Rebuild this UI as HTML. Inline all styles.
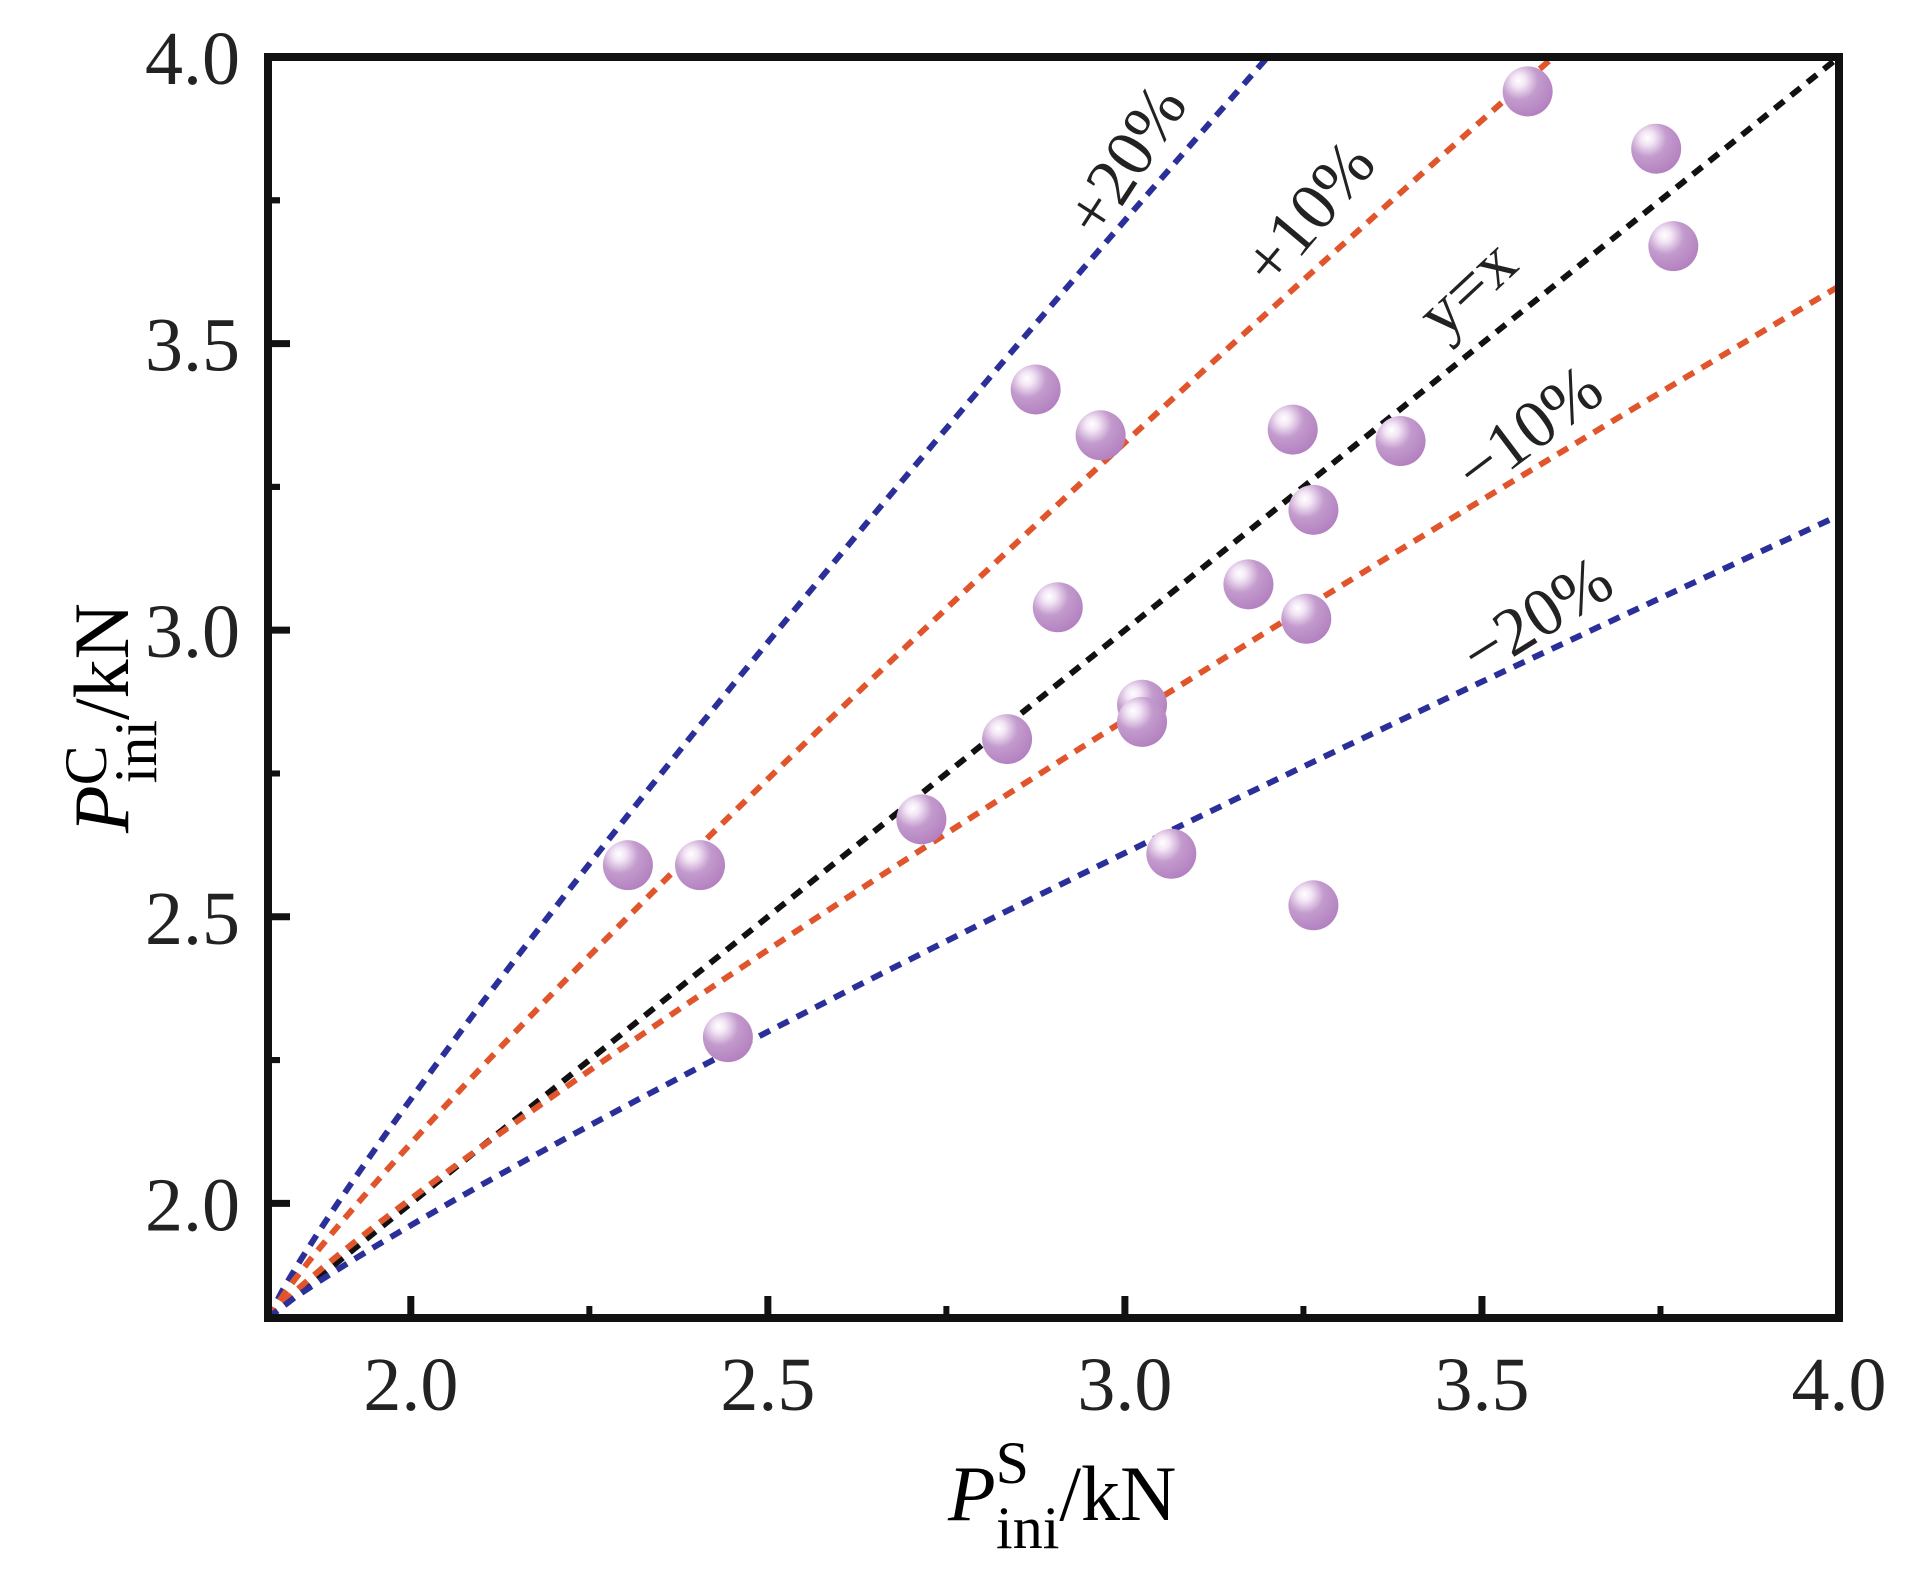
<!DOCTYPE html>
<html><head><meta charset="utf-8"><style>
html,body{margin:0;padding:0;background:#fff;}
svg{display:block;font-family:"Liberation Serif",serif;}
</style></head><body>
<svg id="chart" width="1912" height="1576" viewBox="0 0 1912 1576" xmlns="http://www.w3.org/2000/svg">
<defs>
<radialGradient id="ball" cx="0.35" cy="0.3" r="0.75" fx="0.32" fy="0.28">
<stop offset="0" stop-color="#ffffff"/>
<stop offset="0.18" stop-color="#f3e6f5"/>
<stop offset="0.5" stop-color="#c39bcd"/>
<stop offset="1" stop-color="#b27fbf"/>
</radialGradient>
<clipPath id="plotclip"><rect x="268" y="57" width="1571" height="1261"/></clipPath>
</defs>
<g id="lines" clip-path="url(#plotclip)"></g>
<g id="labels"></g>
<g id="points"></g>
<g id="axes"></g>
<text x="128" y="718" font-size="78" transform="rotate(-90 128 718)" text-anchor="middle"><tspan font-style="italic">P</tspan><tspan font-size="60" dy="-22">C</tspan><tspan font-size="60" dx="-38" dy="50">ini</tspan><tspan dy="-28">/kN</tspan></text>
<text x="948" y="1520" font-size="78"><tspan font-style="italic">P</tspan><tspan font-size="60" dy="-37">S</tspan><tspan font-size="60" dx="-33" dy="65">ini</tspan><tspan dy="-28">/kN</tspan></text>
</svg>
<script>
const xData = [2.304,2.405,2.444,2.715,2.835,2.875,2.906,2.966,3.024,3.024,3.065,3.173,3.235,3.254,3.264,3.264,3.386,3.564,3.744,3.768];
const yData = [2.59,2.59,2.29,2.67,2.81,3.42,3.04,3.34,2.87,2.84,2.61,3.08,3.35,3.02,3.21,2.52,3.33,3.94,3.84,3.67];
const xTicks = [2.0,2.5,3.0,3.5,4.0];
const yTicks = [2.0,2.5,3.0,3.5,4.0];
const xTickLabels = ["2.0","2.5","3.0","3.5","4.0"];
const yTickLabels = ["2.0","2.5","3.0","3.5","4.0"];
const lineFactors = [1.25,1/0.9,1.0,0.9,0.8];
const lineLabels = ["+20%","+10%","y=x","\u221210%","\u221220%"];
const lineNames = ["plus-20-line","plus-10-line","y-equals-x-line","minus-10-line","minus-20-line"];
const X0=1.8,X1=4.0,Y0=1.8,Y1=4.0;
const L=268,R=1839,T=57,B=1318;
const sx=v=>L+(v-X0)/(X1-X0)*(R-L);
const sy=v=>B-(v-Y0)/(Y1-Y0)*(B-T);
const NS="http://www.w3.org/2000/svg";
function mk(t,a,p){const e=document.createElementNS(NS,t);for(const k in a)e.setAttribute(k,a[k]);p.appendChild(e);return e;}
const gl=document.getElementById('lines');
const colors=["#2b2f9a","#e0552c","#111111","#e0552c","#2b2f9a"];
lineFactors.forEach((f,i)=>{
  let xe=X1, ye=f*X1; if(ye>Y1){ye=Y1;xe=Y1/f;}
  let d="";
  for(let k=0;k<=60;k++){const t=k/60;const x=X0+(xe-X0)*t;const y=Y0+(ye-Y0)*Math.pow(t,f===1?1:0.9);d+=(k?"L":"M")+sx(x).toFixed(1)+","+sy(y).toFixed(1);}
  const p=mk('path',{d:d,fill:'none',stroke:colors[i],'stroke-width':6,'stroke-dasharray':'12,9'},gl);
  
  
});
const labelPos=[[1136,167,-57],[1318,221,-50],[1475,297,-43],[1536,439,-37],[1543,627,-32]];
const glab=document.getElementById('labels');
lineLabels.forEach((s,i)=>{
  const [x,y,a]=labelPos[i];
  const t=mk('text',{x:x,y:y+10,'font-size':68,'text-anchor':'middle',fill:'#222',transform:`rotate(${a} ${x} ${y})`},glab);
  t.textContent=s;
  
  
});
const gp=document.getElementById('points');
xData.forEach((x,i)=>{
  const c=mk('circle',{cx:sx(x),cy:sy(yData[i]),r:25,fill:'url(#ball)'},gp);
  
  
});
const ga=document.getElementById('axes');
const fr=mk('rect',{x:L,y:T,width:R-L,height:B-T,fill:'none',stroke:'#111','stroke-width':8},ga);


xTicks.forEach((v,i)=>{
  mk('line',{x1:sx(v),x2:sx(v),y1:B,y2:B-22,stroke:'#111','stroke-width':7},ga);
  if(v+0.25<X1) mk('line',{x1:sx(v+0.25),x2:sx(v+0.25),y1:B,y2:B-12,stroke:'#111','stroke-width':6},ga);
  const t=mk('text',{x:sx(v),y:1410,'font-size':76,'text-anchor':'middle',fill:'#222'},ga);
  t.textContent=xTickLabels[i];
  
  
});
yTicks.forEach((v,i)=>{
  mk('line',{x1:L,x2:L+22,y1:sy(v),y2:sy(v),stroke:'#111','stroke-width':7},ga);
  if(v+0.25<Y1) mk('line',{x1:L,x2:L+12,y1:sy(v+0.25),y2:sy(v+0.25),stroke:'#111','stroke-width':6},ga);
  if(v-0.25>Y0) mk('line',{x1:L,x2:L+12,y1:sy(v-0.25),y2:sy(v-0.25),stroke:'#111','stroke-width':6},ga);
  const t=mk('text',{x:240,y:sy(v)+27,'font-size':76,'text-anchor':'end',fill:'#222'},ga);
  t.textContent=yTickLabels[i];
  
  
});
</script>
</body></html>
